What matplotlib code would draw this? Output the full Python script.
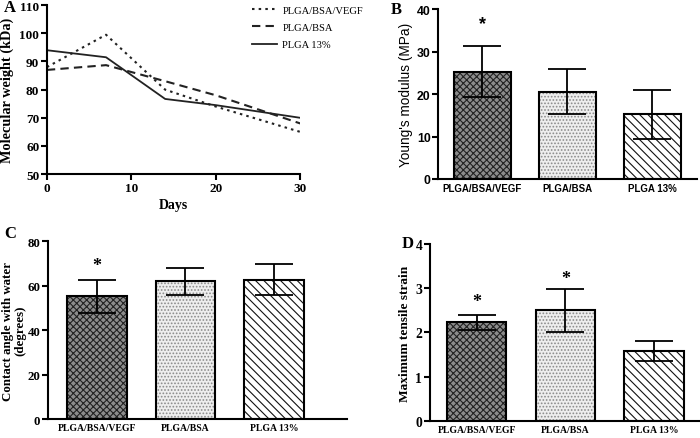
import matplotlib
matplotlib.use("Agg")
import matplotlib.pyplot as plt
import numpy as np

days = [0, 7, 14, 20, 30]
mw_vegf = [88, 99.5, 80, 74, 65]
mw_bsa = [87, 88.7, 83, 78, 68]
mw_plga = [94, 91.5, 76.7, 74.5, 70]
series_labels = ["PLGA/BSA/VEGF", "PLGA/BSA", "PLGA 13%"]

groups = ["PLGA/BSA/VEGF", "PLGA/BSA", "PLGA 13%"]
young = [25.3, 20.5, 15.2]
young_err = [6.0, 5.3, 5.8]
contact = [55.3, 62.0, 62.8]
contact_err = [7.5, 6.0, 6.9]
strain = [2.23, 2.50, 1.58]
strain_err = [0.17, 0.49, 0.23]

plt.rcParams['hatch.linewidth'] = 0.8
SERIF = ['Liberation Serif', 'DejaVu Serif']
SANS = ['Liberation Sans', 'DejaVu Sans']

fig = plt.figure(figsize=(7, 4.39), dpi=100)

def style_axes(ax, fam, tsize=9.5):
    for s in ['top', 'right']:
        ax.spines[s].set_visible(False)
    for s in ['left', 'bottom']:
        ax.spines[s].set_linewidth(1.5)
    ax.tick_params(width=1.5, length=4, direction='out', pad=1.5)
    for lab in ax.get_yticklabels():
        lab.set_family(fam); lab.set_fontweight('bold'); lab.set_fontsize(tsize)

# Panel A
axA = fig.add_axes([0.067, 0.601, 0.362, 0.385])
lv, = axA.plot(days, mw_vegf, color='#222', lw=1.5, linestyle=(0, (1.2, 2.0)))
lb, = axA.plot(days, mw_bsa, color='#222', lw=1.5, linestyle=(0, (4, 2.5)))
lp, = axA.plot(days, mw_plga, color='#222', lw=1.3, linestyle='-')
axA.set_xlim(0, 30)
axA.set_ylim(50, 110)
axA.set_xticks([0, 10, 20, 30])
axA.set_yticks(range(50, 111, 10))
style_axes(axA, SERIF, 9.5)
for lab in axA.get_xticklabels():
    lab.set_family(SERIF); lab.set_fontweight('bold'); lab.set_fontsize(9.5)
axA.set_xlabel("Days", family=SERIF, fontweight='bold', fontsize=10, labelpad=3)
axA.set_ylabel("Molecular weight (kDa)", family=SERIF, fontweight='bold', fontsize=10.3, labelpad=4)
fig.legend([lv, lb, lp], series_labels, loc='upper left', bbox_to_anchor=(0.346, 1.007),
           frameon=False, prop={'family': SERIF, 'size': 7.6}, handlelength=2.4,
           labelspacing=0.75, handletextpad=0.5)
fig.text(0.005, 0.982, "A", family=SERIF, fontweight='bold', fontsize=12, va='center')

hatches = ['xxxxx', '.....', '\\\\\\\\']
faces = ['#8c8c8c', '#eeeeee', 'white']
hcols = ['#222222', '#8a8a8a', '#111111']

def bar_panel(rect, vals, errs, ylim, yticks, xlim, fam, ylabel, ylsize, ylweight, tsize,
              stars, star_y, letter, lpos, lpad):
    ax = fig.add_axes(rect)
    x = np.arange(len(groups))
    for i in range(len(groups)):
        ax.bar(x[i], vals[i], width=0.67, color=faces[i], hatch=hatches[i],
               edgecolor=hcols[i], linewidth=0, zorder=2)
    ax.bar(x, vals, width=0.67, fill=False, edgecolor='black', linewidth=1.5, zorder=3)
    ax.errorbar(x, vals, yerr=errs, fmt='none', ecolor='black', elinewidth=1.3,
                capsize=13.5, capthick=1.3, zorder=4)
    for i, s in enumerate(stars):
        if s:
            ax.text(x[i], star_y[i], "*", ha='center', va='center', fontsize=13,
                    family=fam, fontweight='bold')
    ax.set_ylim(*ylim)
    ax.set_xlim(*xlim)
    ax.set_yticks(yticks)
    ax.set_xticks(x)
    ax.set_xticklabels(groups, family=fam, fontweight='bold', fontsize=7)
    style_axes(ax, fam, tsize)
    ax.tick_params(axis='x', length=0, pad=3)
    ax.set_ylabel(ylabel, family=fam, fontweight=ylweight, fontsize=ylsize, labelpad=lpad,
                  linespacing=1.05)
    fig.text(lpos[0], lpos[1], letter, family=SERIF, fontweight='bold', fontsize=12, va='center')
    return ax

bar_panel([0.626, 0.590, 0.370, 0.387], young, young_err, (0, 40), [0, 10, 20, 30, 40],
          (-0.52, 2.53), SANS, "Young's modulus (MPa)", 9.8, 'normal', 8.8,
          [True, False, False], [36.5, 0, 0], "B", (0.558, 0.978), 3)
bar_panel([0.0686, 0.043, 0.427, 0.405], contact, contact_err, (0, 80), [0, 20, 40, 60, 80],
          (-0.55, 2.82), SERIF, "Contact angle with water\n(degrees)", 9.3, 'bold', 9.3,
          [True, False, False], [69, 0, 0], "C", (0.006, 0.467), 1)
bar_panel([0.614, 0.039, 0.386, 0.403], strain, strain_err, (0, 4), [0, 1, 2, 3, 4],
          (-0.53, 2.52), SERIF, "Maximum tensile strain", 9.6, 'bold', 9.8,
          [True, True, False], [2.71, 3.23, 0], "D", (0.574, 0.445), 3)

fig.savefig("out.png", dpi=100)
